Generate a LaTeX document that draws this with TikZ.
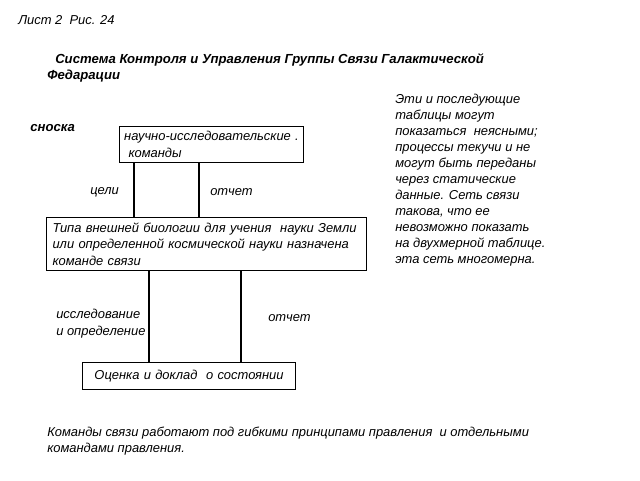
\documentclass[tikz,border=0pt]{standalone}
\usepackage{fontspec}
\setmainfont{Liberation Sans}
\usetikzlibrary{positioning}

\begin{document}
\begin{tikzpicture}[x=0.75pt,y=-0.75pt,
    txt/.style={font=\fontsize{9.7}{12.3}\selectfont\itshape, inner sep=0pt, align=left},
    zag/.style={font=\fontsize{9.85}{12}\selectfont\bfseries\itshape, inner sep=0pt, align=left},
    blok/.style={draw, line width=0.8pt, anchor=north west, align=left,
      font=\fontsize{9.7}{12.3}\selectfont\itshape, inner xsep=4.5pt, inner ysep=0pt}]
  \useasboundingbox (0,0) rectangle (640,480);
  % headings
  \node[txt, anchor=west] (list) at (18,20) {Лист 2\ \ Рис. 24};
  \node[zag, anchor=west] (zag1) at (55,60) {Система Контроля и Управления Группы Связи Галактической};
  \node[zag, anchor=west] (zag2) at (47,76) {Федарации};
  \node[zag, anchor=west] (snoska) at (30,128) {сноска};
  % boxes
  \node[blok, inner xsep=3.5pt, text width=131pt, minimum height=27pt] (nauka) at (119,126)
    {\mbox{научно-исследовательские .}\\\ команды};
  \node[blok, text width=231pt, minimum height=39.75pt] (tip) at (46,217)
    {Типа внешней биологии для учения\ \ науки Земли\\или определенной космической науки назначена\\команде связи};
  \node[blok, align=center, text width=150.75pt, minimum height=20.25pt] (ocenka) at (82,362)
    {Оценка и доклад\ \ о состоянии};
  % connectors
  \coordinate (c1) at (134,0);
  \coordinate (c2) at (199,0);
  \coordinate (c3) at (149,0);
  \coordinate (c4) at (241,0);
  \draw[line width=0.8pt] (c1 |- nauka.south) -- (c1 |- tip.north);
  \draw[line width=0.8pt] (c2 |- nauka.south) -- (c2 |- tip.north);
  \draw[line width=0.8pt] (c3 |- tip.south) -- (c3 |- ocenka.north);
  \draw[line width=0.8pt] (c4 |- tip.south) -- (c4 |- ocenka.north);
  % labels
  \node[txt, anchor=west] (celi) at (90,192) {цели};
  \node[txt, anchor=west] (otchet1) at (210,192) {отчет};
  \node[txt, anchor=north west] (issl) at (56,309) {исследование\\и определение};
  \node[txt, anchor=west] (otchet2) at (268,318) {отчет};
  % notes
  \node[txt, anchor=north west, font=\fontsize{9.7}{12}\selectfont\itshape] (zamet) at (395,94)
    {Эти и последующие\\таблицы могут\\показаться\ \ неясными;\\процессы текучи и не\\могут быть переданы\\через статические\\данные. Сеть связи\\такова, что ее\\невозможно показать\\на двухмерной таблице.\\эта сеть многомерна.};
  \node[txt, anchor=north west, font=\fontsize{9.7}{12}\selectfont\itshape] (komandy) at (47,427)
    {Команды связи работают под гибкими принципами правления\ \ и отдельными\\командами правления.};
\end{tikzpicture}
\end{document}
